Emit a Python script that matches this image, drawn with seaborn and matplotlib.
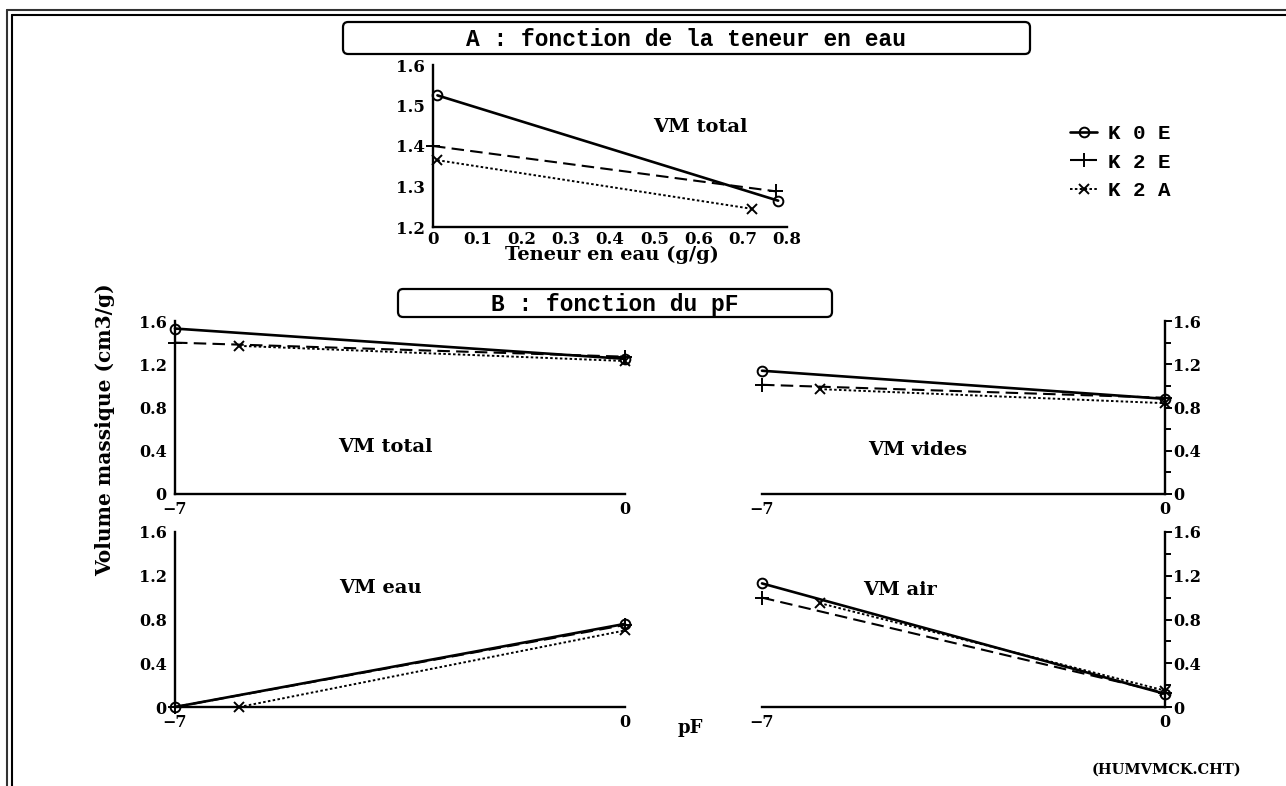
import matplotlib
matplotlib.use("Agg")
import matplotlib.pyplot as plt
import seaborn as sns
from matplotlib.lines import Line2D
from matplotlib.patches import FancyBboxPatch
from matplotlib.ticker import FixedLocator, FixedFormatter, MultipleLocator

# ---- data -------------------------------------------------------------
series = ["K 0 E", "K 2 E", "K 2 A"]

# A : volume massique total en fonction de la teneur en eau (g/g)
teneur_K0E = [0.01, 0.78]
teneur_K2E = [0.0, 0.775]
teneur_K2A = [0.01, 0.72]
vm_teneur_K0E = [1.525, 1.265]
vm_teneur_K2E = [1.40, 1.288]
vm_teneur_K2A = [1.365, 1.245]

# B : volumes massiques en fonction du pF
pf_K0E = [-7, 0]
pf_K2E = [-7, 0]
pf_K2A = [-6, 0]

vm_total_K0E = [1.53, 1.25]
vm_total_K2E = [1.40, 1.27]
vm_total_K2A = [1.37, 1.23]

vm_vides_K0E = [1.14, 0.88]
vm_vides_K2E = [1.01, 0.89]
vm_vides_K2A = [0.97, 0.84]

vm_eau_K0E = [0.0, 0.76]
vm_eau_K2E = [0.0, 0.75]
vm_eau_K2A = [0.0, 0.70]

vm_air_K0E = [1.13, 0.12]
vm_air_K2E = [1.00, 0.13]
vm_air_K2A = [0.95, 0.15]

teneur_ticks = [0, 0.1, 0.2, 0.3, 0.4, 0.5, 0.6, 0.7, 0.8]
teneur_ticklabels = ["0", "0.1", "0.2", "0.3", "0.4", "0.5", "0.6", "0.7", "0.8"]
vmA_ticks = [1.2, 1.3, 1.4, 1.5, 1.6]
vmA_ticklabels = ["1.2", "1.3", "1.4", "1.5", "1.6"]
pf_ticks = [-7, -6, -5, -4, -3, -2, -1, 0]
pf_ticklabels = ["\u22127", "", "", "", "", "", "", "0"]
vmB_ticks = [0, 0.4, 0.8, 1.2, 1.6]
vmB_ticklabels = ["0", "0.4", "0.8", "1.2", "1.6"]

# ---- style ------------------------------------------------------------
sns.set_theme(style="white")
plt.rcParams["font.family"] = ["DejaVu Serif"]
plt.rcParams["font.weight"] = "bold"
plt.rcParams["text.color"] = "black"
plt.rcParams["axes.labelcolor"] = "black"
plt.rcParams["xtick.color"] = "black"
plt.rcParams["ytick.color"] = "black"

MONO = "Liberation Mono"
SERIF = "DejaVu Serif"

line_styles = {
    "K 0 E": dict(linestyle="-", linewidth=1.9, marker="o", markersize=7),
    "K 2 E": dict(linestyle=(0, (6, 3)), linewidth=1.5, marker="+", markersize=10),
    "K 2 A": dict(linestyle=(0, (1.3, 1.2)), linewidth=1.4, marker="x", markersize=7),
}

W, H = 1286, 786
fig = plt.figure(figsize=(W / 100, H / 100), dpi=100)


def fx(px):
    return px / W


def fy(py):
    return 1 - py / H


def axes_px(left, top, right, bottom):
    return fig.add_axes([fx(left), fy(bottom), (right - left) / W, (bottom - top) / H])


def draw_series(ax, xs, ys):
    for name in series:
        st = line_styles[name]
        sns.lineplot(x=xs[name], y=ys[name], ax=ax, color="black",
                     markerfacecolor="none", markeredgecolor="black",
                     markeredgewidth=1.4, legend=False, clip_on=False, **st)


def style_axis(ax, right=False, labelsize=11.5):
    for s in ["top", "right", "left", "bottom"]:
        ax.spines[s].set_visible(False)
    ax.spines["bottom"].set_visible(True)
    side = "right" if right else "left"
    ax.spines[side].set_visible(True)
    for s in ["bottom", side]:
        ax.spines[s].set_linewidth(1.7)
        ax.spines[s].set_color("black")
    ax.set_facecolor("none")
    ax.set_xlabel("")
    ax.set_ylabel("")
    if right:
        ax.yaxis.tick_right()
    ax.tick_params(axis="y", which="major", direction="out", length=5, width=1.4,
                   labelsize=labelsize, pad=1, colors="black")
    ax.tick_params(axis="y", which="minor", direction="out", length=4, width=1.4)
    ax.tick_params(axis="x", which="major", direction="out", length=4, width=1.4,
                   labelsize=labelsize, pad=1, colors="black")
    for lab in ax.get_xticklabels() + ax.get_yticklabels():
        lab.set_fontweight("bold")
        lab.set_family(SERIF)


# ---- frame ------------------------------------------------------------
for off, col in [(7, "#333333"), (12, "black")]:
    fig.add_artist(Line2D([fx(off), fx(off)], [fy(off + 3), 0], transform=fig.transFigure,
                          color=col, lw=1.5))
    fig.add_artist(Line2D([fx(off), 1], [fy(off + 3), fy(off + 3)], transform=fig.transFigure,
                          color=col, lw=1.5))

# ---- panel A ----------------------------------------------------------
axA = axes_px(433, 65, 787, 227)
draw_series(axA,
            {"K 0 E": teneur_K0E, "K 2 E": teneur_K2E, "K 2 A": teneur_K2A},
            {"K 0 E": vm_teneur_K0E, "K 2 E": vm_teneur_K2E, "K 2 A": vm_teneur_K2A})
axA.set_xlim(0, 0.8)
axA.set_ylim(1.2, 1.6)
axA.xaxis.set_major_locator(FixedLocator(teneur_ticks))
axA.xaxis.set_major_formatter(FixedFormatter(teneur_ticklabels))
axA.yaxis.set_major_locator(FixedLocator(vmA_ticks))
axA.yaxis.set_major_formatter(FixedFormatter(vmA_ticklabels))
axA.yaxis.set_minor_locator(MultipleLocator(0.05))
style_axis(axA, labelsize=12)
axA.tick_params(axis="x", length=0, pad=3)
axA.text(0.754, 0.62, "VM total", transform=axA.transAxes, ha="center", va="center",
         family=SERIF, weight="bold", size=14)

# ---- panels B ---------------------------------------------------------
pf = {"K 0 E": pf_K0E, "K 2 E": pf_K2E, "K 2 A": pf_K2A}
panels = [
    ((175, 321, 625, 494), False, {"K 0 E": vm_total_K0E, "K 2 E": vm_total_K2E, "K 2 A": vm_total_K2A},
     "VM total", (0.467, 0.27)),
    ((762, 321, 1165, 494), True, {"K 0 E": vm_vides_K0E, "K 2 E": vm_vides_K2E, "K 2 A": vm_vides_K2A},
     "VM vides", (0.387, 0.254)),
    ((175, 532, 625, 707), False, {"K 0 E": vm_eau_K0E, "K 2 E": vm_eau_K2E, "K 2 A": vm_eau_K2A},
     "VM eau", (0.456, 0.68)),
    ((762, 532, 1165, 707), True, {"K 0 E": vm_air_K0E, "K 2 E": vm_air_K2E, "K 2 A": vm_air_K2A},
     "VM air", (0.342, 0.669)),
]
for box, right, ys, label, pos in panels:
    ax = axes_px(*box)
    draw_series(ax, pf, ys)
    ax.set_xlim(-7, 0)
    ax.set_ylim(0, 1.6)
    ax.xaxis.set_major_locator(FixedLocator(pf_ticks))
    ax.xaxis.set_major_formatter(FixedFormatter(pf_ticklabels))
    ax.yaxis.set_major_locator(FixedLocator(vmB_ticks))
    ax.yaxis.set_major_formatter(FixedFormatter(vmB_ticklabels))
    ax.yaxis.set_minor_locator(MultipleLocator(0.2))
    style_axis(ax, right=right)
    ax.text(pos[0], pos[1], label, transform=ax.transAxes, ha="center", va="center",
            family=SERIF, weight="bold", size=14)

# ---- titles, boxes and labels ----------------------------------------
for (l, t, r, b), txt in [((343, 22, 1030, 54), "A : fonction de la teneur en eau"),
                          ((398, 289, 832, 317), "B : fonction du pF")]:
    fig.add_artist(FancyBboxPatch((fx(l), fy(b)), (r - l) / W, (b - t) / H,
                                  boxstyle="round,pad=0,rounding_size=0.004",
                                  mutation_aspect=W / H, transform=fig.transFigure,
                                  fill=False, ec="black", lw=1.6))
    fig.text(fx((l + r) / 2), fy((t + b) / 2 + 1), txt, ha="center", va="center",
             family=MONO, weight="bold", size=16.5)

fig.text(fx(612), fy(255), "Teneur en eau (g/g)", ha="center", va="center",
         family=SERIF, weight="bold", size=14)
fig.text(fx(105), fy(430), "Volume massique (cm3/g)", ha="center", va="center",
         rotation=90, family=SERIF, weight="bold", size=14.5)
fig.text(fx(690), fy(728), "pF", ha="center", va="center", family=SERIF, weight="bold", size=13)
fig.text(fx(1166), fy(770), "(HUMVMCK.CHT)", ha="center", va="center",
         family=SERIF, weight="bold", size=10.5)

handles = [Line2D([], [], color="black", markerfacecolor="none", markeredgecolor="black",
                  markeredgewidth=1.4, **line_styles[n]) for n in series]
fig.legend(handles, series, loc="upper left", bbox_to_anchor=(fx(1062), fy(116)),
           frameon=False, handlelength=1.3, handletextpad=0.5, labelspacing=0.45,
           prop={"family": MONO, "weight": "bold", "size": 15}, borderaxespad=0)

fig.savefig("out.png", dpi=100, facecolor="white")
